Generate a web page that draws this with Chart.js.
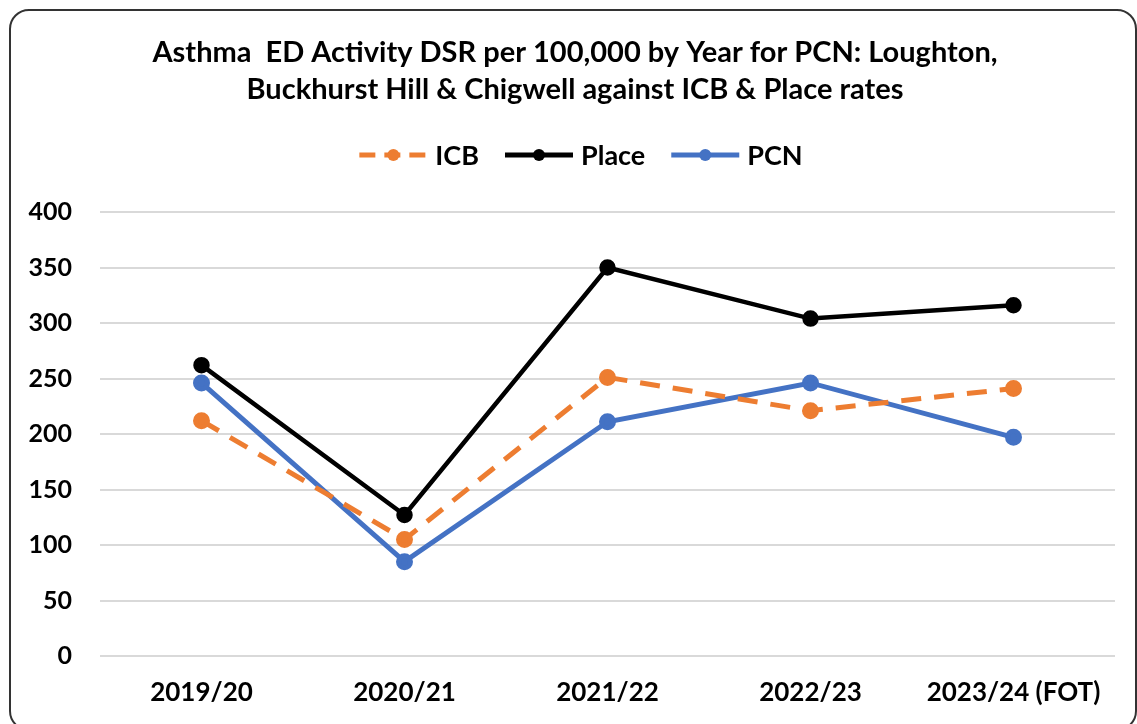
<!DOCTYPE html>
<html><head><meta charset="utf-8">
<script src="https://cdn.jsdelivr.net/npm/chart.js@4.4.1/dist/chart.umd.min.js"></script>
<style>
html,body{margin:0;padding:0;background:#fff;}
#frame{position:absolute;left:9px;top:9px;width:1124px;height:718px;border:2px solid #333;border-radius:20px;}
#wrap{position:absolute;left:0;top:0;width:1137px;height:724px;}
</style></head><body>
<div id="frame"></div>
<div id="wrap"><canvas id="c" width="1137" height="724"></canvas></div>
<script>
const categories = ["2019/20", "2020/21", "2021/22", "2022/23", "2023/24 (FOT)"];
const icbValues = [212, 105, 251, 221, 241];
const placeValues = [262, 127, 350, 304, 316];
const pcnValues = [246, 85, 211, 246, 197];
const yTicks = [0, 50, 100, 150, 200, 250, 300, 350, 400];
const titleLines = ["Asthma  ED Activity DSR per 100,000 by Year for PCN: Loughton,", "Buckhurst Hill & Chigwell against ICB & Place rates"];

const FONT = "Lato, 'Open Sans', sans-serif";

const headerPlugin = {
  id: 'header',
  afterDraw(chart) {
    const ctx = chart.ctx;
    ctx.save();
    // title
    ctx.font = "bold 29px " + FONT;
    ctx.fillStyle = '#000'; ctx.textAlign = 'center'; ctx.textBaseline = 'middle';
    titleLines.forEach((t, i) => ctx.fillText(t, 575, 53 + i * 37));
    // legend
    const y = 155;
    ctx.font = "bold 27px " + FONT;
    const items = chart.data.datasets.map(d => ({label: d.label, color: d.borderColor, dash: d.borderDash || []}));
    const lineLen = 68, gap = 8, spacing = 26;
    let total = 0;
    items.forEach((it, i) => { it.w = ctx.measureText(it.label).width; total += lineLen + gap + it.w + (i < items.length - 1 ? spacing : 0); });
    let x = 581 - total / 2;
    ctx.textAlign = 'left';
    items.forEach(it => {
      ctx.strokeStyle = it.color; ctx.fillStyle = it.color; ctx.lineWidth = 5;
      ctx.setLineDash(it.dash.length ? [16, 9] : []);
      ctx.beginPath(); ctx.moveTo(x, y); ctx.lineTo(x + lineLen, y); ctx.stroke();
      ctx.setLineDash([]);
      ctx.beginPath(); ctx.arc(x + lineLen / 2, y, 6, 0, Math.PI * 2); ctx.fill();
      ctx.fillStyle = '#000';
      ctx.fillText(it.label, x + lineLen + gap, y + 1);
      x += lineLen + gap + it.w + spacing;
    });
    ctx.restore();
  }
};

new Chart(document.getElementById('c'), {
  type: 'line',
  data: {
    labels: categories,
    datasets: [
      {label: 'ICB', data: icbValues, borderColor: '#ED7D31', backgroundColor: '#ED7D31', borderWidth: 5, borderDash: [20, 13], pointRadius: 6, pointHoverRadius: 6},
      {label: 'Place', data: placeValues, borderColor: '#000000', backgroundColor: '#000000', borderWidth: 4.5, pointRadius: 6, pointHoverRadius: 6},
      {label: 'PCN', data: pcnValues, borderColor: '#4472C4', backgroundColor: '#4472C4', borderWidth: 5, pointRadius: 6, pointHoverRadius: 6}
    ]
  },
  options: {
    responsive: false,
    animation: false,
    layout: {padding: {left: 0, right: 22, top: 212, bottom: 0}},
    plugins: {
      legend: {display: false},
      tooltip: {enabled: false},
      title: {display: false}
    },
    scales: {
      x: {
        offset: true,
        grid: {display: false, drawTicks: false},
        border: {display: false},
        ticks: {color: '#000', font: {family: FONT, size: 26, weight: 'bold'}, padding: 21, maxRotation: 0},
        afterFit(s) { s.height = 68; }
      },
      y: {
        min: 0, max: 400,
        afterBuildTicks(s) { s.ticks = yTicks.map(v => ({value: v})); },
        grid: {color: '#d9d9d9', lineWidth: 2, drawTicks: false},
        border: {display: false},
        ticks: {color: '#000', font: {family: FONT, size: 25, weight: 'bold'}, padding: 28},
        afterFit(s) { s.width = 100; }
      }
    }
  },
  plugins: [headerPlugin]
});
</script>
</body></html>
